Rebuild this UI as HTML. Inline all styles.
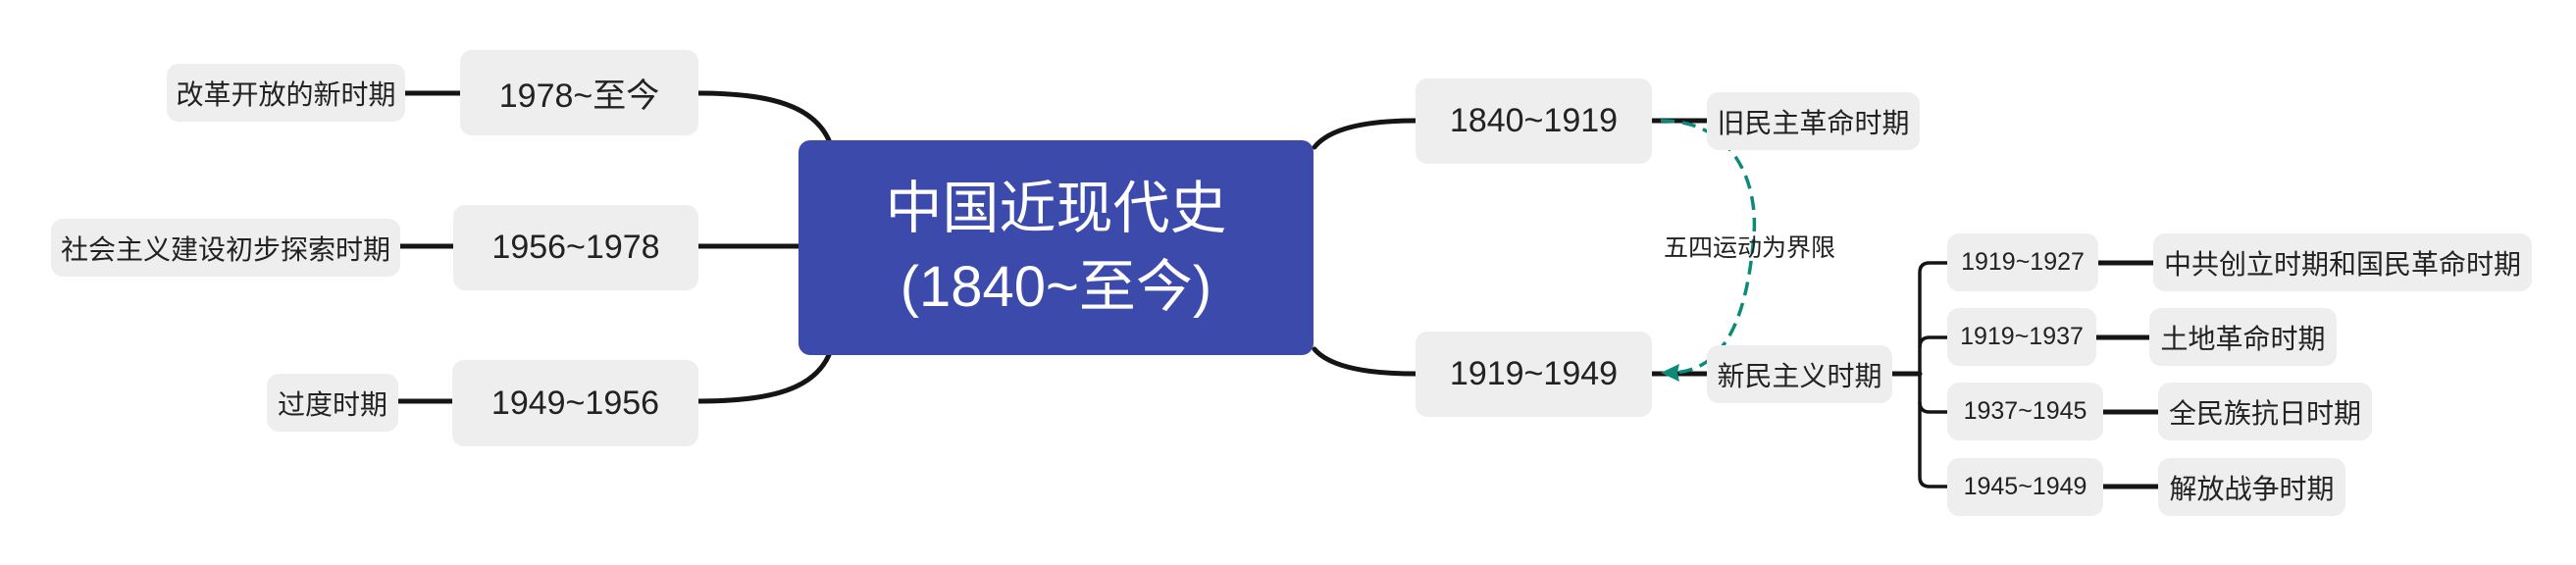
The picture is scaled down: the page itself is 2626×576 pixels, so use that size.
<!DOCTYPE html>
<html><head><meta charset="utf-8"><style>
html,body{margin:0;padding:0;background:#fff;width:2626px;height:576px;overflow:hidden}
body{position:relative;font-family:"Liberation Sans","Noto Sans CJK SC",sans-serif;color:#222}
.b{position:absolute;background:#eeeeee;border-radius:12px;display:flex;align-items:center;justify-content:center;white-space:nowrap}
.l1{font-size:34px}
.l2{font-size:28px}
.l3{font-size:25px}
svg{position:absolute;left:0;top:0}
</style></head><body>
<svg width="2626" height="576">
<g fill="none" stroke="#151515" stroke-width="5" stroke-linecap="round">
<path d="M712 95 C790 95 830 110 845 143"/>
<path d="M712 251 L814 251"/>
<path d="M712 409 C790 409 830 395 845 362"/>
<path d="M1443 123 C1380 123 1352 135 1340 150"/>
<path d="M1443 381 C1380 381 1352 370 1340 356"/>
<path d="M413 95 L469 95 M408 251 L462 251 M406 409 L461 409"/>
<path d="M1684 123 L1740 123 M1684 381 L1740 381 M1929 381 L1957 381"/>
<path d="M2139 268 L2195 268 M2137 344 L2191 344 M2144 420 L2200 420 M2144 496 L2200 496"/>
</g>
<g fill="none" stroke="#151515" stroke-width="3.5">
<path d="M1985 268 L1967 268 Q1957 268 1957 278 L1957 486 Q1957 496 1967 496 L1985 496"/>
<path d="M1985 344 L1967 344 Q1957 344 1957 354"/>
<path d="M1957 410 Q1957 420 1967 420 L1985 420"/>
</g>
<path d="M1693 123 C1770 123 1795 190 1787 250 C1780 320 1760 378 1705 380" fill="none" stroke="#0b8a7a" stroke-width="3.5" stroke-dasharray="14 8"/>
<path d="M1693 380 L1712 371 L1710 380 L1712 389 Z" fill="#0b8a7a"/>
</svg>
<div class="b" style="left:814px;top:143px;width:525px;height:219px;background:#3b4aab;color:#fff;font-size:58px;line-height:80px;text-align:center;flex-direction:column">中国近现代史<br>(1840~至今)</div>
<div class="b l1" style="left:469px;top:51px;width:243px;height:87px">1978~至今</div>
<div class="b l1" style="left:462px;top:209px;width:250px;height:87px">1956~1978</div>
<div class="b l1" style="left:461px;top:367px;width:251px;height:88px">1949~1956</div>
<div class="b l2" style="left:170px;top:65px;width:243px;height:59px">改革开放的新时期</div>
<div class="b l2" style="left:52px;top:223px;width:356px;height:59px">社会主义建设初步探索时期</div>
<div class="b l2" style="left:272px;top:381px;width:134px;height:59px">过度时期</div>
<div class="b l1" style="left:1443px;top:80px;width:241px;height:87px">1840~1919</div>
<div class="b l1" style="left:1443px;top:338px;width:241px;height:87px">1919~1949</div>
<div class="b l2" style="left:1740px;top:94px;width:217px;height:59px">旧民主革命时期</div>
<div class="b l2" style="left:1740px;top:352px;width:189px;height:59px">新民主义时期</div>
<div style="position:absolute;left:1696px;top:233px;font-size:25px;white-space:nowrap">五四运动为界限</div>
<div class="b l3" style="left:1985px;top:238px;width:154px;height:59px">1919~1927</div>
<div class="b l3" style="left:1985px;top:314px;width:152px;height:59px">1919~1937</div>
<div class="b l3" style="left:1985px;top:390px;width:159px;height:59px">1937~1945</div>
<div class="b l3" style="left:1985px;top:467px;width:159px;height:59px">1945~1949</div>
<div class="b l2" style="left:2195px;top:238px;width:386px;height:59px">中共创立时期和国民革命时期</div>
<div class="b l2" style="left:2191px;top:314px;width:191px;height:59px">土地革命时期</div>
<div class="b l2" style="left:2200px;top:390px;width:218px;height:59px">全民族抗日时期</div>
<div class="b l2" style="left:2200px;top:467px;width:191px;height:59px">解放战争时期</div>
</body></html>
